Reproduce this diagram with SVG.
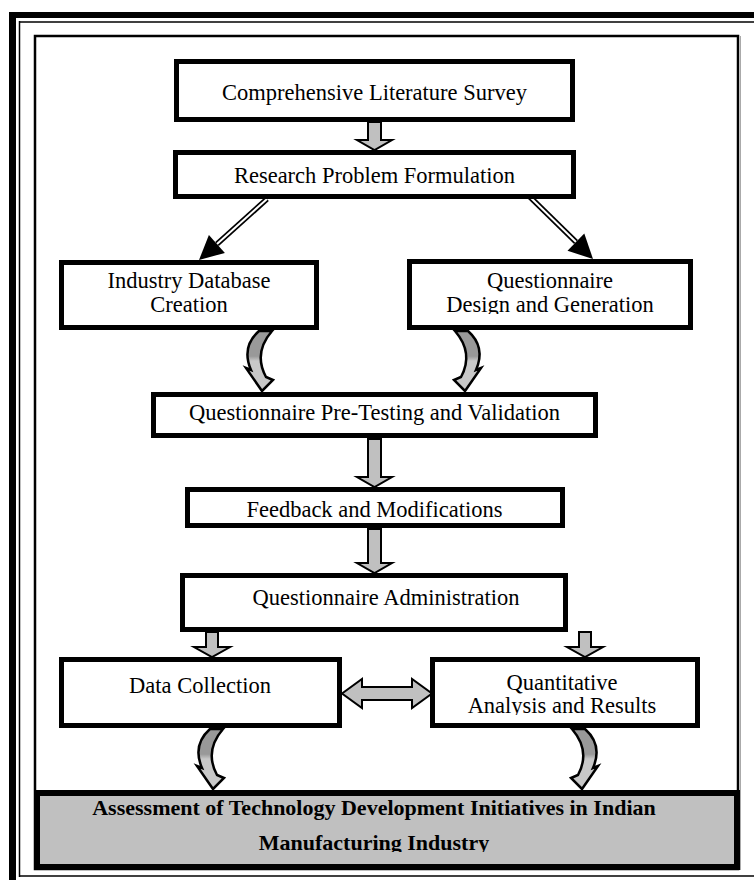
<svg xmlns="http://www.w3.org/2000/svg" width="754" height="880" viewBox="0 0 754 880">
<style>
.box{fill:#fff;stroke:#000;stroke-width:5}
.t{font-family:"Liberation Serif","Times New Roman",serif;font-size:22.5px;fill:#000;text-anchor:middle}
.b{font-weight:bold;font-size:22px}
.blk{fill:#c0c0c0;stroke:#000;stroke-width:2}
.curv{fill:url(#cg);stroke:#000;stroke-width:2.5;stroke-linejoin:miter}
</style>
<defs>
<linearGradient id="cg" x1="0" y1="0" x2="0" y2="1">
<stop offset="0" stop-color="#999"/><stop offset="0.42" stop-color="#999"/>
<stop offset="0.5" stop-color="#c8c8c8"/><stop offset="1" stop-color="#c8c8c8"/>
</linearGradient>
<path id="ca" class="curv" d="M0,0 Q-18,16 -8,39 L-13,37 L3,60 L14,49 L7,46 Q-6,22 13,0 Z"/>
<clipPath id="c2"><rect x="170" y="150" width="410" height="35"/></clipPath>
<clipPath id="c4"><rect x="405" y="259" width="290" height="55"/></clipPath>
<clipPath id="c6"><rect x="180" y="487" width="390" height="32"/></clipPath>
<clipPath id="c9"><rect x="428" y="657" width="275" height="58"/></clipPath>
<clipPath id="cb"><rect x="34" y="790" width="706" height="62"/></clipPath>
</defs>

<g id="frame" fill="none">
<line x1="12.5" y1="12" x2="12.5" y2="880" stroke="#000" stroke-width="7"/>
<line x1="9" y1="15" x2="754" y2="15" stroke="#000" stroke-width="6"/>
<line x1="19.5" y1="21" x2="19.5" y2="877" stroke="#000" stroke-width="1.5"/>
<line x1="19" y1="22" x2="754" y2="22" stroke="#000" stroke-width="1.5"/>
<line x1="19" y1="876" x2="754" y2="876" stroke="#000" stroke-width="1.5"/>
<rect x="35" y="36" width="703" height="833" stroke="#000" stroke-width="2.5"/>
<line x1="740.5" y1="36" x2="740.5" y2="870" stroke="#aaa" stroke-width="1"/>
</g>

<g id="connectors">
<path class="blk" d="M368,122 L368,140 L357,140 L374.5,150 L392,140 L381,140 L381,122 Z"/>
<path class="blk" d="M368,439 L368,477 L357,477 L374.5,487 L392,477 L381,477 L381,439 Z"/>
<path class="blk" d="M368,529 L368,563 L357,563 L374.5,573 L392,563 L381,563 L381,529 Z"/>
<path class="blk" d="M206,632 L206,647 L194,647 L212,657 L230,647 L218,647 L218,632 Z"/>
<path class="blk" d="M579,632 L579,647 L567,647 L585,657 L603,647 L591,647 L591,632 Z"/>
<line x1="267" y1="199" x2="217" y2="244" stroke="#000" stroke-width="5.5"/>
<line x1="267" y1="199" x2="217" y2="244" stroke="#fff" stroke-width="2"/>
<polygon points="199,260 224.9,252.9 208.9,235.1" fill="#000"/>
<line x1="530" y1="197" x2="576" y2="242" stroke="#000" stroke-width="5.5"/>
<line x1="530" y1="197" x2="576" y2="242" stroke="#fff" stroke-width="2"/>
<polygon points="593,259 567.5,250.8 584.3,233.6" fill="#000"/>
<use href="#ca" transform="translate(259,331)"/>
<use href="#ca" transform="translate(468,331) scale(-1,1)"/>
<use href="#ca" transform="translate(210,729)"/>
<use href="#ca" transform="translate(585,729) scale(-1,1)"/>
<path class="blk" stroke-width="2.5" d="M342,693.5 L362,679 L362,687 L412,687 L412,679 L432,693.5 L412,708 L412,700 L362,700 L362,708 Z"/>
</g>

<g id="n1"><rect class="box" x="176.5" y="61.5" width="396" height="58"/>
<text class="t" x="374.5" y="100">Comprehensive Literature Survey</text></g>
<g id="n2"><rect class="box" x="175.5" y="152.5" width="398" height="44"/>
<text class="t" x="374.5" y="183" clip-path="url(#c2)">Research Problem Formulation</text></g>
<g id="n3"><rect class="box" x="61.5" y="262.5" width="255" height="65"/>
<text class="t" x="189" y="288">Industry Database</text>
<text class="t" x="189" y="312">Creation</text></g>
<g id="n4"><rect class="box" x="409.5" y="261.5" width="281" height="66"/>
<text class="t" x="550" y="288">Questionnaire</text>
<text class="t" x="550" y="312" clip-path="url(#c4)">Design and Generation</text></g>
<g id="n5"><rect class="box" x="153.5" y="394.5" width="442" height="41"/>
<text class="t" x="374.5" y="420">Questionnaire Pre-Testing and Validation</text></g>
<g id="n6"><rect class="box" x="187.5" y="489.5" width="375" height="36"/>
<text class="t" x="374.5" y="517" clip-path="url(#c6)">Feedback and Modifications</text></g>
<g id="n7"><rect class="box" x="182.5" y="575.5" width="383" height="54"/>
<text class="t" x="386" y="605">Questionnaire Administration</text></g>
<g id="n8"><rect class="box" x="61.5" y="659.5" width="278" height="66"/>
<text class="t" x="200" y="693">Data Collection</text></g>
<g id="n9"><rect class="box" x="432.5" y="659.5" width="265" height="66"/>
<text class="t" x="562" y="690">Quantitative</text>
<text class="t" x="562" y="713" clip-path="url(#c9)">Analysis and Results</text></g>
<g id="n10"><rect x="37" y="793" width="700" height="74" fill="#c0c0c0" stroke="#000" stroke-width="6"/>
<text class="t b" x="374" y="815">Assessment of Technology Development Initiatives in Indian</text>
<text class="t b" x="374" y="850" clip-path="url(#cb)">Manufacturing Industry</text></g>
</svg>
